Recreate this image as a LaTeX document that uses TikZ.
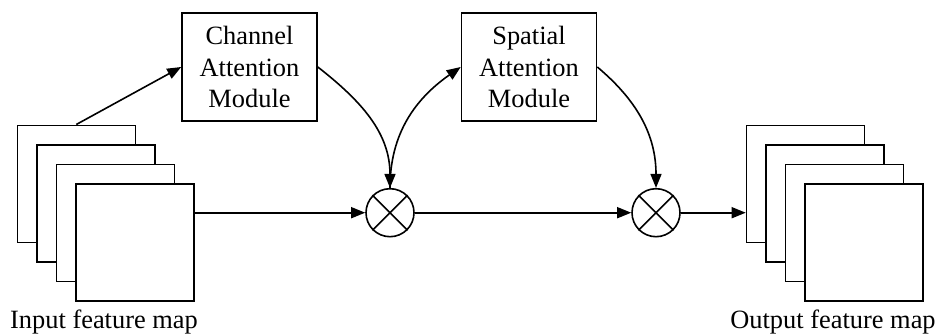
\documentclass[tikz,border=0pt]{standalone}
\usepackage{fontspec}
\setmainfont{Liberation Serif}
\usetikzlibrary{arrows.meta}
\tikzset{
  fmap/.style={draw, fill=white, minimum width=118pt, minimum height=117pt, inner sep=0pt},
  module/.style={draw, fill=white, minimum width=135pt, minimum height=108pt, inner sep=0pt,
    align=center, font=\fontsize{26.4}{31.7}\selectfont},
  mult/.style={draw, circle, minimum size=48pt, inner sep=0pt},
  lbl/.style={font=\fontsize{26.4}{31.7}\selectfont, anchor=base, inner sep=0pt},
  flow/.style={-{Triangle[length=14pt,width=11pt]}},
}
\begin{document}
\begin{tikzpicture}[x=1pt, y=-1pt, line width=1.6pt]
\useasboundingbox (0,0) rectangle (941,334);

% input feature map stack
\node[fmap] (in1) at (76.3,183.8) {};
\node[fmap] (in2) at (95.8,203.3) {};
\node[fmap] (in3) at (115.3,222.8) {};
\node[fmap] (in4) at (134.8,242.3) {};
\node[lbl] (inl) at (104,328) {Input feature map};

% output feature map stack
\node[fmap] (out1) at (805.5,183.8) {};
\node[fmap] (out2) at (825,203.3) {};
\node[fmap] (out3) at (844.5,222.8) {};
\node[fmap] (out4) at (864,242.3) {};
\node[lbl] (outl) at (833,328) {Output feature map};

% attention modules
\node[module] (cam) at (249.5,67) {Channel\\Attention\\Module};
\node[module] (sam) at (529,67) {Spatial\\Attention\\Module};

% element-wise multiplications
\node[mult] (m1) at (390,212.7) {};
\node[mult] (m2) at (656,212.7) {};
\foreach \m in {m1,m2} {
  \draw (\m.north west) -- (\m.south east);
  \draw (\m.north east) -- (\m.south west);
}

% connectors
\draw[flow] (in1.north) -- (cam.west);
\draw[flow] (in4.east |- m1.west) -- (m1.west);
\draw[flow] (cam.east) to[out=-38, in=90] (m1.north);
\draw[flow] (m1.north) to[out=90, in=-145] (sam.west);
\draw[flow] (m1.east) -- (m2.west);
\draw[flow] (sam.east) to[out=-40, in=90] (m2.north);
\draw[flow] (m2.east) -- (out1.west |- m2.east);
\end{tikzpicture}
\end{document}
